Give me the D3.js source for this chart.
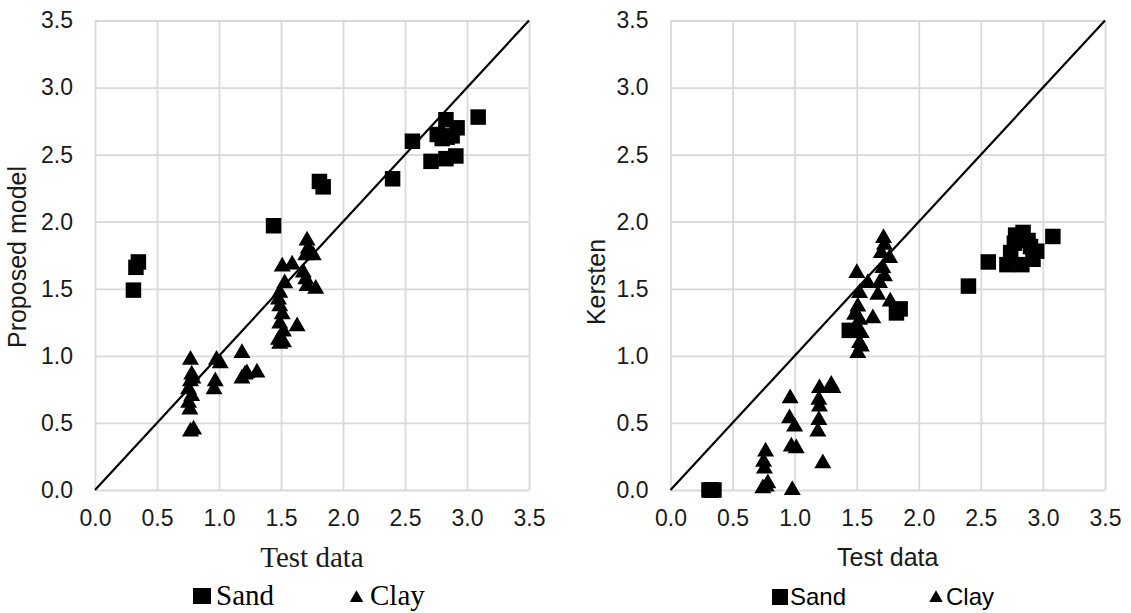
<!DOCTYPE html>
<html>
<head>
<meta charset="utf-8">
<script src="https://cdn.jsdelivr.net/npm/d3@7"></script>
<style>
  body { margin: 0; background: #fff; }
  svg { display: block; }
</style>
</head>
<body>
<svg id="chart" width="1131" height="613"></svg>
<script>
// axis ticks, same on both axes of both panels
const ticks = [0, 0.5, 1.0, 1.5, 2.0, 2.5, 3.0, 3.5];

// [test data, proposed model]
const sandProposed = [
  [0.31, 1.49], [0.33, 1.66], [0.35, 1.70], [1.44, 1.97], [1.81, 2.30],
  [1.84, 2.26], [2.40, 2.32], [2.56, 2.60], [2.71, 2.45], [2.76, 2.65],
  [2.80, 2.62], [2.83, 2.76], [2.84, 2.63], [2.83, 2.47], [2.88, 2.64],
  [2.91, 2.49], [2.92, 2.70], [3.09, 2.78]
];
const clayProposed = [
  [0.77, 0.97], [0.78, 0.86], [0.77, 0.81], [0.79, 0.83], [0.755, 0.75],
  [0.78, 0.70], [0.755, 0.65], [0.765, 0.60], [0.77, 0.435], [0.795, 0.45],
  [0.98, 0.97], [1.01, 0.945], [0.97, 0.81], [0.96, 0.75],
  [1.185, 1.02], [1.185, 0.83], [1.225, 0.87], [1.21, 0.86], [1.306, 0.875],
  [1.51, 1.665], [1.59, 1.68], [1.53, 1.54], [1.49, 1.47], [1.48, 1.42],
  [1.49, 1.37], [1.51, 1.31], [1.49, 1.24], [1.52, 1.18], [1.48, 1.12],
  [1.52, 1.10], [1.63, 1.22], [1.49, 1.09],
  [1.71, 1.86], [1.72, 1.80], [1.70, 1.75], [1.76, 1.75], [1.68, 1.62],
  [1.70, 1.57], [1.71, 1.52], [1.78, 1.50]
];

// [test data, Kersten]
const sandKersten = [
  [0.31, 0.0], [0.33, 0.0], [0.35, 0.0], [1.44, 1.19], [1.82, 1.32],
  [1.85, 1.35], [2.40, 1.52], [2.56, 1.70], [2.71, 1.68], [2.74, 1.77],
  [2.77, 1.84], [2.78, 1.90], [2.84, 1.92], [2.83, 1.68], [2.88, 1.86],
  [2.90, 1.815], [2.92, 1.72], [2.95, 1.78], [3.08, 1.89]
];
const clayKersten = [
  [0.766, 0.286], [0.75, 0.21], [0.757, 0.16], [0.771, 0.025], [0.784, 0.05], [0.744, 0.013],
  [0.964, 0.684], [0.959, 0.535], [1.0, 0.472], [0.973, 0.323], [1.013, 0.311], [0.981, 0.0],
  [1.2, 0.759], [1.195, 0.672], [1.2, 0.622], [1.195, 0.522], [1.187, 0.435], [1.227, 0.199],
  [1.295, 0.784], [1.308, 0.76],
  [1.501, 1.617], [1.59, 1.542], [1.523, 1.468], [1.509, 1.368], [1.483, 1.306], [1.523, 1.269],
  [1.496, 1.219], [1.537, 1.169], [1.523, 1.095], [1.537, 1.069], [1.509, 1.02], [1.63, 1.28],
  [1.716, 1.878], [1.724, 1.828], [1.698, 1.766], [1.765, 1.729], [1.71, 1.654], [1.724, 1.592],
  [1.684, 1.542], [1.67, 1.455], [1.77, 1.405]
];

const SANS = '"Liberation Sans", Arial, sans-serif';
const SERIF = '"Liberation Serif", "Times New Roman", serif';

const svg = d3.select('#chart');

const squareSym = d3.symbol().type(d3.symbolSquare).size(240);
const triSym = d3.symbol().type(d3.symbolTriangle).size(125);

function drawPanel(p) {
  var x = d3.scaleLinear().domain([0, 3.5]).range([p.left, p.right]);
  var y = d3.scaleLinear().domain([0, 3.5]).range([p.bottom, p.top]);
  var fmt = d3.format('.1f');

  var g = svg.append('g');

  // axes double as the grid
  var xAxis = g.append('g')
    .attr('transform', 'translate(0,' + p.bottom + ')')
    .call(d3.axisBottom(x).tickValues(ticks).tickFormat(fmt)
      .tickSize(-(p.bottom - p.top)).tickPadding(20));
  var yAxis = g.append('g')
    .attr('transform', 'translate(' + p.left + ',0)')
    .call(d3.axisLeft(y).tickValues(ticks).tickFormat(fmt)
      .tickSize(-(p.right - p.left)).tickPadding(22));

  [xAxis, yAxis].forEach(function(a) {
    a.select('.domain').remove();
    a.selectAll('.tick line')
      .attr('stroke', '#d9d9d9')
      .attr('stroke-width', 1.8);
    a.selectAll('.tick text')
      .attr('fill', '#1a1a1a')
      .style('font-family', SANS)
      .style('font-size', '23px');
  });

  // 1:1 line
  g.append('line')
    .attr('x1', x(0)).attr('y1', y(0))
    .attr('x2', x(3.5)).attr('y2', y(3.5))
    .attr('stroke', '#000')
    .attr('stroke-width', 2.2);

  g.selectAll('path.sand')
    .data(p.sand)
    .enter().append('path')
    .attr('class', 'sand')
    .attr('d', squareSym)
    .attr('transform', function(d) { return 'translate(' + x(d[0]) + ',' + y(d[1]) + ')'; })
    .attr('fill', '#000');

  g.selectAll('path.clay')
    .data(p.clay)
    .enter().append('path')
    .attr('class', 'clay')
    .attr('d', triSym)
    .attr('transform', function(d) { return 'translate(' + x(d[0]) + ',' + y(d[1]) + ')'; })
    .attr('fill', '#000');

  // titles
  g.append('text')
    .attr('x', (p.left + p.right) / 2)
    .attr('y', p.xTitleY)
    .attr('text-anchor', 'middle')
    .style('font-family', p.xTitleFont)
    .style('font-size', p.xTitleSize + 'px')
    .attr('fill', '#1a1a1a')
    .text('Test data');

  g.append('text')
    .attr('transform', 'translate(' + p.yTitleX + ',' + p.yTitleY + ') rotate(-90)')
    .attr('text-anchor', 'middle')
    .style('font-family', SANS)
    .style('font-size', '25px')
    .attr('fill', '#1a1a1a')
    .text(p.yTitle);

  // legend
  var lg = g.append('g');
  lg.append('rect')
    .attr('x', p.legend.sq[0]).attr('y', p.legend.sq[1])
    .attr('width', p.legend.sq[2]).attr('height', p.legend.sq[3])
    .attr('fill', '#000');
  lg.append('path')
    .attr('d', d3.symbol().type(d3.symbolTriangle).size(p.legend.triSize)())
    .attr('transform', 'translate(' + p.legend.tri[0] + ',' + p.legend.tri[1] + ')')
    .attr('fill', '#000');
  lg.append('text')
    .attr('x', p.legend.sandX).attr('y', 605)
    .style('font-family', p.legend.font)
    .style('font-size', p.legend.size + 'px')
    .attr('fill', '#000')
    .text('Sand');
  lg.append('text')
    .attr('x', p.legend.clayX).attr('y', 605)
    .style('font-family', p.legend.font)
    .style('font-size', p.legend.size + 'px')
    .attr('fill', '#000')
    .text('Clay');
}

drawPanel({
  left: 95, right: 529, top: 20.5, bottom: 490,
  sand: sandProposed, clay: clayProposed,
  xTitleY: 567, xTitleFont: SERIF, xTitleSize: 29,
  yTitle: 'Proposed model', yTitleX: 26, yTitleY: 257,
  legend: {
    sq: [193, 588, 18, 16], tri: [356.5, 598], triSize: 80,
    sandX: 216, clayX: 370, font: SERIF, size: 29
  }
});

drawPanel({
  left: 670.5, right: 1105, top: 20.5, bottom: 490,
  sand: sandKersten, clay: clayKersten,
  xTitleY: 566, xTitleFont: SANS, xTitleSize: 25,
  yTitle: 'Kersten', yTitleX: 605, yTitleY: 282,
  legend: {
    sq: [772, 589, 16, 16], tri: [936, 598], triSize: 80,
    sandX: 790, clayX: 946, font: SANS, size: 24
  }
});
</script>
</body>
</html>
